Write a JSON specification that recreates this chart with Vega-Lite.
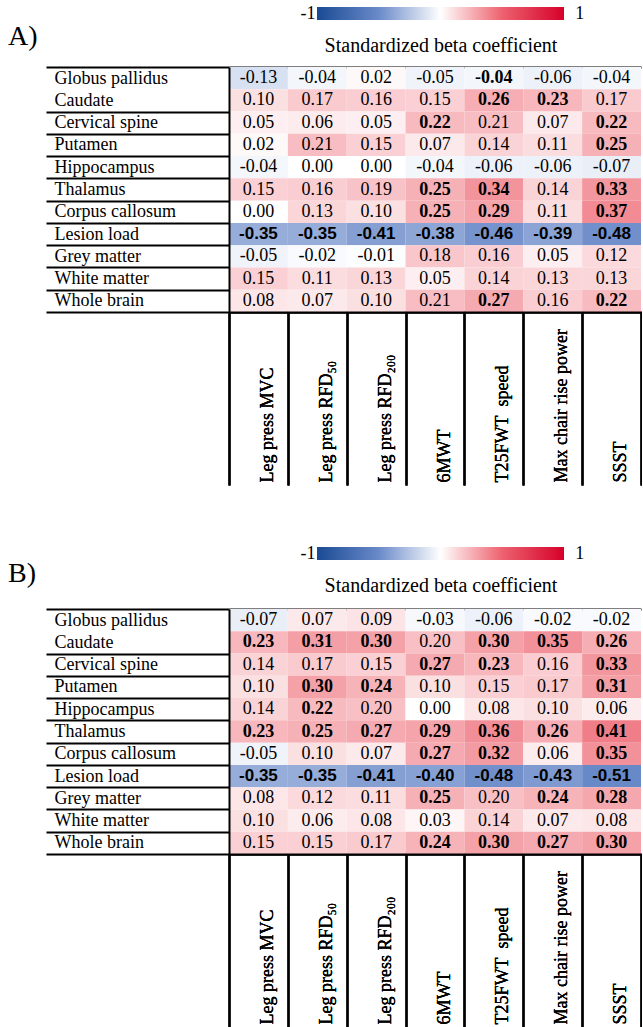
{
  "$schema": "https://vega.github.io/schema/vega-lite/v6.json",
  "padding": {"left": 8, "top": 7, "right": 0, "bottom": 0},
  "background": "white",
  "spacing": 61,
  "config": {
    "locale": {"number": {"decimal": ".", "thousands": ",", "grouping": [3], "currency": ["$", ""], "minus": "-"}},
    "view": {"stroke": null},
    "font": "Liberation Serif",
    "axis": {"grid": false, "title": null, "labelFont": "Liberation Serif", "labelFontSize": 18, "labelColor": "black", "labelLimit": 400, "labelOverlap": false, "labelFlush": false, "labelBound": false},
    "legend": {"padding": 0, "offset": 0, "labelFont": "Liberation Serif", "labelFontSize": 18, "labelColor": "black", "titleFont": "Liberation Serif", "titleFontSize": 20, "titleFontWeight": "normal", "titleColor": "black", "titleLimit": 400, "labelLimit": 400}
  },
  "resolve": {"scale": {"color": "independent"}, "legend": {"color": "independent"}},
  "data": {"values": [
    {"panel":"A","region":"Globus pallidus","measure":"Leg press MVC","beta":-0.13,"sig":false},
    {"panel":"A","region":"Globus pallidus","measure":"Leg press RFD₅₀","beta":-0.04,"sig":false},
    {"panel":"A","region":"Globus pallidus","measure":"Leg press RFD₂₀₀","beta":0.02,"sig":false},
    {"panel":"A","region":"Globus pallidus","measure":"6MWT","beta":-0.05,"sig":false},
    {"panel":"A","region":"Globus pallidus","measure":"T25FWT\u00a0 speed","beta":-0.04,"sig":true},
    {"panel":"A","region":"Globus pallidus","measure":"Max chair rise power","beta":-0.06,"sig":false},
    {"panel":"A","region":"Globus pallidus","measure":"SSST","beta":-0.04,"sig":false},
    {"panel":"A","region":"Caudate","measure":"Leg press MVC","beta":0.10,"sig":false},
    {"panel":"A","region":"Caudate","measure":"Leg press RFD₅₀","beta":0.17,"sig":false},
    {"panel":"A","region":"Caudate","measure":"Leg press RFD₂₀₀","beta":0.16,"sig":false},
    {"panel":"A","region":"Caudate","measure":"6MWT","beta":0.15,"sig":false},
    {"panel":"A","region":"Caudate","measure":"T25FWT\u00a0 speed","beta":0.26,"sig":true},
    {"panel":"A","region":"Caudate","measure":"Max chair rise power","beta":0.23,"sig":true},
    {"panel":"A","region":"Caudate","measure":"SSST","beta":0.17,"sig":false},
    {"panel":"A","region":"Cervical spine","measure":"Leg press MVC","beta":0.05,"sig":false},
    {"panel":"A","region":"Cervical spine","measure":"Leg press RFD₅₀","beta":0.06,"sig":false},
    {"panel":"A","region":"Cervical spine","measure":"Leg press RFD₂₀₀","beta":0.05,"sig":false},
    {"panel":"A","region":"Cervical spine","measure":"6MWT","beta":0.22,"sig":true},
    {"panel":"A","region":"Cervical spine","measure":"T25FWT\u00a0 speed","beta":0.21,"sig":false},
    {"panel":"A","region":"Cervical spine","measure":"Max chair rise power","beta":0.07,"sig":false},
    {"panel":"A","region":"Cervical spine","measure":"SSST","beta":0.22,"sig":true},
    {"panel":"A","region":"Putamen","measure":"Leg press MVC","beta":0.02,"sig":false},
    {"panel":"A","region":"Putamen","measure":"Leg press RFD₅₀","beta":0.21,"sig":false},
    {"panel":"A","region":"Putamen","measure":"Leg press RFD₂₀₀","beta":0.15,"sig":false},
    {"panel":"A","region":"Putamen","measure":"6MWT","beta":0.07,"sig":false},
    {"panel":"A","region":"Putamen","measure":"T25FWT\u00a0 speed","beta":0.14,"sig":false},
    {"panel":"A","region":"Putamen","measure":"Max chair rise power","beta":0.11,"sig":false},
    {"panel":"A","region":"Putamen","measure":"SSST","beta":0.25,"sig":true},
    {"panel":"A","region":"Hippocampus","measure":"Leg press MVC","beta":-0.04,"sig":false},
    {"panel":"A","region":"Hippocampus","measure":"Leg press RFD₅₀","beta":0.00,"sig":false},
    {"panel":"A","region":"Hippocampus","measure":"Leg press RFD₂₀₀","beta":0.00,"sig":false},
    {"panel":"A","region":"Hippocampus","measure":"6MWT","beta":-0.04,"sig":false},
    {"panel":"A","region":"Hippocampus","measure":"T25FWT\u00a0 speed","beta":-0.06,"sig":false},
    {"panel":"A","region":"Hippocampus","measure":"Max chair rise power","beta":-0.06,"sig":false},
    {"panel":"A","region":"Hippocampus","measure":"SSST","beta":-0.07,"sig":false},
    {"panel":"A","region":"Thalamus","measure":"Leg press MVC","beta":0.15,"sig":false},
    {"panel":"A","region":"Thalamus","measure":"Leg press RFD₅₀","beta":0.16,"sig":false},
    {"panel":"A","region":"Thalamus","measure":"Leg press RFD₂₀₀","beta":0.19,"sig":false},
    {"panel":"A","region":"Thalamus","measure":"6MWT","beta":0.25,"sig":true},
    {"panel":"A","region":"Thalamus","measure":"T25FWT\u00a0 speed","beta":0.34,"sig":true},
    {"panel":"A","region":"Thalamus","measure":"Max chair rise power","beta":0.14,"sig":false},
    {"panel":"A","region":"Thalamus","measure":"SSST","beta":0.33,"sig":true},
    {"panel":"A","region":"Corpus callosum","measure":"Leg press MVC","beta":0.00,"sig":false},
    {"panel":"A","region":"Corpus callosum","measure":"Leg press RFD₅₀","beta":0.13,"sig":false},
    {"panel":"A","region":"Corpus callosum","measure":"Leg press RFD₂₀₀","beta":0.10,"sig":false},
    {"panel":"A","region":"Corpus callosum","measure":"6MWT","beta":0.25,"sig":true},
    {"panel":"A","region":"Corpus callosum","measure":"T25FWT\u00a0 speed","beta":0.29,"sig":true},
    {"panel":"A","region":"Corpus callosum","measure":"Max chair rise power","beta":0.11,"sig":false},
    {"panel":"A","region":"Corpus callosum","measure":"SSST","beta":0.37,"sig":true},
    {"panel":"A","region":"Lesion load","measure":"Leg press MVC","beta":-0.35,"sig":true},
    {"panel":"A","region":"Lesion load","measure":"Leg press RFD₅₀","beta":-0.35,"sig":true},
    {"panel":"A","region":"Lesion load","measure":"Leg press RFD₂₀₀","beta":-0.41,"sig":true},
    {"panel":"A","region":"Lesion load","measure":"6MWT","beta":-0.38,"sig":true},
    {"panel":"A","region":"Lesion load","measure":"T25FWT\u00a0 speed","beta":-0.46,"sig":true},
    {"panel":"A","region":"Lesion load","measure":"Max chair rise power","beta":-0.39,"sig":true},
    {"panel":"A","region":"Lesion load","measure":"SSST","beta":-0.48,"sig":true},
    {"panel":"A","region":"Grey matter","measure":"Leg press MVC","beta":-0.05,"sig":false},
    {"panel":"A","region":"Grey matter","measure":"Leg press RFD₅₀","beta":-0.02,"sig":false},
    {"panel":"A","region":"Grey matter","measure":"Leg press RFD₂₀₀","beta":-0.01,"sig":false},
    {"panel":"A","region":"Grey matter","measure":"6MWT","beta":0.18,"sig":false},
    {"panel":"A","region":"Grey matter","measure":"T25FWT\u00a0 speed","beta":0.16,"sig":false},
    {"panel":"A","region":"Grey matter","measure":"Max chair rise power","beta":0.05,"sig":false},
    {"panel":"A","region":"Grey matter","measure":"SSST","beta":0.12,"sig":false},
    {"panel":"A","region":"White matter","measure":"Leg press MVC","beta":0.15,"sig":false},
    {"panel":"A","region":"White matter","measure":"Leg press RFD₅₀","beta":0.11,"sig":false},
    {"panel":"A","region":"White matter","measure":"Leg press RFD₂₀₀","beta":0.13,"sig":false},
    {"panel":"A","region":"White matter","measure":"6MWT","beta":0.05,"sig":false},
    {"panel":"A","region":"White matter","measure":"T25FWT\u00a0 speed","beta":0.14,"sig":false},
    {"panel":"A","region":"White matter","measure":"Max chair rise power","beta":0.13,"sig":false},
    {"panel":"A","region":"White matter","measure":"SSST","beta":0.13,"sig":false},
    {"panel":"A","region":"Whole brain","measure":"Leg press MVC","beta":0.08,"sig":false},
    {"panel":"A","region":"Whole brain","measure":"Leg press RFD₅₀","beta":0.07,"sig":false},
    {"panel":"A","region":"Whole brain","measure":"Leg press RFD₂₀₀","beta":0.10,"sig":false},
    {"panel":"A","region":"Whole brain","measure":"6MWT","beta":0.21,"sig":false},
    {"panel":"A","region":"Whole brain","measure":"T25FWT\u00a0 speed","beta":0.27,"sig":true},
    {"panel":"A","region":"Whole brain","measure":"Max chair rise power","beta":0.16,"sig":false},
    {"panel":"A","region":"Whole brain","measure":"SSST","beta":0.22,"sig":true},
    {"panel":"B","region":"Globus pallidus","measure":"Leg press MVC","beta":-0.07,"sig":false},
    {"panel":"B","region":"Globus pallidus","measure":"Leg press RFD₅₀","beta":0.07,"sig":false},
    {"panel":"B","region":"Globus pallidus","measure":"Leg press RFD₂₀₀","beta":0.09,"sig":false},
    {"panel":"B","region":"Globus pallidus","measure":"6MWT","beta":-0.03,"sig":false},
    {"panel":"B","region":"Globus pallidus","measure":"T25FWT\u00a0 speed","beta":-0.06,"sig":false},
    {"panel":"B","region":"Globus pallidus","measure":"Max chair rise power","beta":-0.02,"sig":false},
    {"panel":"B","region":"Globus pallidus","measure":"SSST","beta":-0.02,"sig":false},
    {"panel":"B","region":"Caudate","measure":"Leg press MVC","beta":0.23,"sig":true},
    {"panel":"B","region":"Caudate","measure":"Leg press RFD₅₀","beta":0.31,"sig":true},
    {"panel":"B","region":"Caudate","measure":"Leg press RFD₂₀₀","beta":0.30,"sig":true},
    {"panel":"B","region":"Caudate","measure":"6MWT","beta":0.20,"sig":false},
    {"panel":"B","region":"Caudate","measure":"T25FWT\u00a0 speed","beta":0.30,"sig":true},
    {"panel":"B","region":"Caudate","measure":"Max chair rise power","beta":0.35,"sig":true},
    {"panel":"B","region":"Caudate","measure":"SSST","beta":0.26,"sig":true},
    {"panel":"B","region":"Cervical spine","measure":"Leg press MVC","beta":0.14,"sig":false},
    {"panel":"B","region":"Cervical spine","measure":"Leg press RFD₅₀","beta":0.17,"sig":false},
    {"panel":"B","region":"Cervical spine","measure":"Leg press RFD₂₀₀","beta":0.15,"sig":false},
    {"panel":"B","region":"Cervical spine","measure":"6MWT","beta":0.27,"sig":true},
    {"panel":"B","region":"Cervical spine","measure":"T25FWT\u00a0 speed","beta":0.23,"sig":true},
    {"panel":"B","region":"Cervical spine","measure":"Max chair rise power","beta":0.16,"sig":false},
    {"panel":"B","region":"Cervical spine","measure":"SSST","beta":0.33,"sig":true},
    {"panel":"B","region":"Putamen","measure":"Leg press MVC","beta":0.10,"sig":false},
    {"panel":"B","region":"Putamen","measure":"Leg press RFD₅₀","beta":0.30,"sig":true},
    {"panel":"B","region":"Putamen","measure":"Leg press RFD₂₀₀","beta":0.24,"sig":true},
    {"panel":"B","region":"Putamen","measure":"6MWT","beta":0.10,"sig":false},
    {"panel":"B","region":"Putamen","measure":"T25FWT\u00a0 speed","beta":0.15,"sig":false},
    {"panel":"B","region":"Putamen","measure":"Max chair rise power","beta":0.17,"sig":false},
    {"panel":"B","region":"Putamen","measure":"SSST","beta":0.31,"sig":true},
    {"panel":"B","region":"Hippocampus","measure":"Leg press MVC","beta":0.14,"sig":false},
    {"panel":"B","region":"Hippocampus","measure":"Leg press RFD₅₀","beta":0.22,"sig":true},
    {"panel":"B","region":"Hippocampus","measure":"Leg press RFD₂₀₀","beta":0.20,"sig":false},
    {"panel":"B","region":"Hippocampus","measure":"6MWT","beta":0.00,"sig":false},
    {"panel":"B","region":"Hippocampus","measure":"T25FWT\u00a0 speed","beta":0.08,"sig":false},
    {"panel":"B","region":"Hippocampus","measure":"Max chair rise power","beta":0.10,"sig":false},
    {"panel":"B","region":"Hippocampus","measure":"SSST","beta":0.06,"sig":false},
    {"panel":"B","region":"Thalamus","measure":"Leg press MVC","beta":0.23,"sig":true},
    {"panel":"B","region":"Thalamus","measure":"Leg press RFD₅₀","beta":0.25,"sig":true},
    {"panel":"B","region":"Thalamus","measure":"Leg press RFD₂₀₀","beta":0.27,"sig":true},
    {"panel":"B","region":"Thalamus","measure":"6MWT","beta":0.29,"sig":true},
    {"panel":"B","region":"Thalamus","measure":"T25FWT\u00a0 speed","beta":0.36,"sig":true},
    {"panel":"B","region":"Thalamus","measure":"Max chair rise power","beta":0.26,"sig":true},
    {"panel":"B","region":"Thalamus","measure":"SSST","beta":0.41,"sig":true},
    {"panel":"B","region":"Corpus callosum","measure":"Leg press MVC","beta":-0.05,"sig":false},
    {"panel":"B","region":"Corpus callosum","measure":"Leg press RFD₅₀","beta":0.10,"sig":false},
    {"panel":"B","region":"Corpus callosum","measure":"Leg press RFD₂₀₀","beta":0.07,"sig":false},
    {"panel":"B","region":"Corpus callosum","measure":"6MWT","beta":0.27,"sig":true},
    {"panel":"B","region":"Corpus callosum","measure":"T25FWT\u00a0 speed","beta":0.32,"sig":true},
    {"panel":"B","region":"Corpus callosum","measure":"Max chair rise power","beta":0.06,"sig":false},
    {"panel":"B","region":"Corpus callosum","measure":"SSST","beta":0.35,"sig":true},
    {"panel":"B","region":"Lesion load","measure":"Leg press MVC","beta":-0.35,"sig":true},
    {"panel":"B","region":"Lesion load","measure":"Leg press RFD₅₀","beta":-0.35,"sig":true},
    {"panel":"B","region":"Lesion load","measure":"Leg press RFD₂₀₀","beta":-0.41,"sig":true},
    {"panel":"B","region":"Lesion load","measure":"6MWT","beta":-0.40,"sig":true},
    {"panel":"B","region":"Lesion load","measure":"T25FWT\u00a0 speed","beta":-0.48,"sig":true},
    {"panel":"B","region":"Lesion load","measure":"Max chair rise power","beta":-0.43,"sig":true},
    {"panel":"B","region":"Lesion load","measure":"SSST","beta":-0.51,"sig":true},
    {"panel":"B","region":"Grey matter","measure":"Leg press MVC","beta":0.08,"sig":false},
    {"panel":"B","region":"Grey matter","measure":"Leg press RFD₅₀","beta":0.12,"sig":false},
    {"panel":"B","region":"Grey matter","measure":"Leg press RFD₂₀₀","beta":0.11,"sig":false},
    {"panel":"B","region":"Grey matter","measure":"6MWT","beta":0.25,"sig":true},
    {"panel":"B","region":"Grey matter","measure":"T25FWT\u00a0 speed","beta":0.20,"sig":false},
    {"panel":"B","region":"Grey matter","measure":"Max chair rise power","beta":0.24,"sig":true},
    {"panel":"B","region":"Grey matter","measure":"SSST","beta":0.28,"sig":true},
    {"panel":"B","region":"White matter","measure":"Leg press MVC","beta":0.10,"sig":false},
    {"panel":"B","region":"White matter","measure":"Leg press RFD₅₀","beta":0.06,"sig":false},
    {"panel":"B","region":"White matter","measure":"Leg press RFD₂₀₀","beta":0.08,"sig":false},
    {"panel":"B","region":"White matter","measure":"6MWT","beta":0.03,"sig":false},
    {"panel":"B","region":"White matter","measure":"T25FWT\u00a0 speed","beta":0.14,"sig":false},
    {"panel":"B","region":"White matter","measure":"Max chair rise power","beta":0.07,"sig":false},
    {"panel":"B","region":"White matter","measure":"SSST","beta":0.08,"sig":false},
    {"panel":"B","region":"Whole brain","measure":"Leg press MVC","beta":0.15,"sig":false},
    {"panel":"B","region":"Whole brain","measure":"Leg press RFD₅₀","beta":0.15,"sig":false},
    {"panel":"B","region":"Whole brain","measure":"Leg press RFD₂₀₀","beta":0.17,"sig":false},
    {"panel":"B","region":"Whole brain","measure":"6MWT","beta":0.24,"sig":true},
    {"panel":"B","region":"Whole brain","measure":"T25FWT\u00a0 speed","beta":0.30,"sig":true},
    {"panel":"B","region":"Whole brain","measure":"Max chair rise power","beta":0.27,"sig":true},
    {"panel":"B","region":"Whole brain","measure":"SSST","beta":0.30,"sig":true}
  ]},
  "vconcat": [
    {
      "title": {"text": "A)", "anchor": "start", "frame": "bounds", "orient": "top", "offset": 0, "dx": -37, "dy": 58, "baseline": "middle", "fontSize": 28, "font": "Liberation Serif", "fontWeight": "normal", "color": "black"},
      "width": 412, "height": 245,
      "transform": [{"filter": "datum.panel === 'A'"}],
      "resolve": {"axis": {"x": "independent"}},
      "encoding": {
        "x": {"field": "measure", "type": "nominal", "sort": ["Leg press MVC","Leg press RFD₅₀","Leg press RFD₂₀₀","6MWT","T25FWT\u00a0 speed","Max chair rise power","SSST"], "scale": {"paddingInner": 0, "paddingOuter": 0},
          "axis": {"orient": "bottom", "domain": true, "domainColor": "black", "domainWidth": 2, "ticks": true, "tickBand": "extent", "tickSize": 173, "tickWidth": 2, "tickColor": "black", "labelAngle": -90, "labelAlign": "left", "labelBaseline": "middle", "labelPadding": -3, "labelOffset": 9}},
        "y": {"field": "region", "type": "nominal", "sort": ["Globus pallidus","Caudate","Cervical spine","Putamen","Hippocampus","Thalamus","Corpus callosum","Lesion load","Grey matter","White matter","Whole brain"], "scale": {"paddingInner": 0, "paddingOuter": 0},
          "axis": {"orient": "left", "domain": true, "domainColor": "black", "domainWidth": 2, "ticks": true, "tickBand": "extent", "tickSize": 183, "tickWidth": 2, "tickColor": {"condition": {"test": "datum.index === 0", "value": "transparent"}, "value": "black"}, "labelAlign": "left", "labelBaseline": "middle", "labelPadding": -8}}
      },
      "layer": [
        {"mark": {"type": "rect"},
         "encoding": {"color": {"field": "beta", "type": "quantitative",
           "scale": {"domain": [-1, -0.5, 0, 0.5, 1], "range": ["#1a4a94", "#6a8ac9", "#ffffff", "#ed626e", "#d6002a"], "interpolate": "rgb"},
           "legend": {"orient": "none", "legendX": 88, "legendY": -60, "direction": "horizontal", "gradientLength": 247, "gradientThickness": 13, "gradientStrokeWidth": 0, "values": [-0.9999, 0.9999],
             "labelExpr": "datum.value < 0 ? '-1\u00a0\u00a0\u00a0\u00a0\u200b' : '\u200b\u00a0\u00a0\u00a0\u00a0\u00a0\u00a0\u00a01'", "labelOffset": -15,
             "title": "Standardized beta coefficient", "titleOrient": "bottom", "titleAnchor": "middle", "titlePadding": 13}}}},
        {"transform": [{"filter": "!datum.sig && datum.region !== 'Lesion load'"}],
         "mark": {"type": "text", "font": "Liberation Serif", "fontSize": 18, "color": "black"},
         "encoding": {
           "x": {"field": "measure", "type": "nominal", "sort": ["Leg press MVC","Leg press RFD₅₀","Leg press RFD₂₀₀","6MWT","T25FWT\u00a0 speed","Max chair rise power","SSST"],
             "axis": {"orient": "top", "domain": true, "domainColor": "black", "domainWidth": 2, "ticks": false, "labels": false}},
           "text": {"field": "beta", "type": "quantitative", "format": ".2f"}}},
        {"transform": [{"filter": "datum.sig && datum.region !== 'Lesion load'"}],
         "mark": {"type": "text", "font": "Liberation Serif", "fontSize": 18, "fontWeight": "bold", "color": "black"},
         "encoding": {"text": {"field": "beta", "type": "quantitative", "format": ".2f"}}},
        {"transform": [{"filter": "datum.region === 'Lesion load'"}],
         "mark": {"type": "text", "font": "Liberation Sans", "fontSize": 17, "fontWeight": "bold", "color": "black"},
         "encoding": {"text": {"field": "beta", "type": "quantitative", "format": ".2f"}}}
      ]
    },
    {
      "title": {"text": "B)", "anchor": "start", "frame": "bounds", "orient": "top", "offset": 0, "dx": -37, "dy": 55, "baseline": "middle", "fontSize": 28, "font": "Liberation Serif", "fontWeight": "normal", "color": "black"},
      "width": 412, "height": 245,
      "transform": [{"filter": "datum.panel === 'B'"}],
      "resolve": {"axis": {"x": "independent"}},
      "encoding": {
        "x": {"field": "measure", "type": "nominal", "sort": ["Leg press MVC","Leg press RFD₅₀","Leg press RFD₂₀₀","6MWT","T25FWT\u00a0 speed","Max chair rise power","SSST"], "scale": {"paddingInner": 0, "paddingOuter": 0},
          "axis": {"orient": "bottom", "domain": true, "domainColor": "black", "domainWidth": 2, "ticks": true, "tickBand": "extent", "tickSize": 173, "tickWidth": 2, "tickColor": "black", "labelAngle": -90, "labelAlign": "left", "labelBaseline": "middle", "labelPadding": -3, "labelOffset": 9}},
        "y": {"field": "region", "type": "nominal", "sort": ["Globus pallidus","Caudate","Cervical spine","Putamen","Hippocampus","Thalamus","Corpus callosum","Lesion load","Grey matter","White matter","Whole brain"], "scale": {"paddingInner": 0, "paddingOuter": 0},
          "axis": {"orient": "left", "domain": true, "domainColor": "black", "domainWidth": 2, "ticks": true, "tickBand": "extent", "tickSize": 183, "tickWidth": 2, "tickColor": {"condition": {"test": "datum.index === 0", "value": "transparent"}, "value": "black"}, "labelAlign": "left", "labelBaseline": "middle", "labelPadding": -8}}
      },
      "layer": [
        {"mark": {"type": "rect"},
         "encoding": {"color": {"field": "beta", "type": "quantitative",
           "scale": {"domain": [-1, -0.5, 0, 0.5, 1], "range": ["#1a4a94", "#6a8ac9", "#ffffff", "#ed626e", "#d6002a"], "interpolate": "rgb"},
           "legend": {"orient": "none", "legendX": 88, "legendY": -62, "direction": "horizontal", "gradientLength": 247, "gradientThickness": 13, "gradientStrokeWidth": 0, "values": [-0.9999, 0.9999],
             "labelExpr": "datum.value < 0 ? '-1\u00a0\u00a0\u00a0\u00a0\u200b' : '\u200b\u00a0\u00a0\u00a0\u00a0\u00a0\u00a0\u00a01'", "labelOffset": -15,
             "title": "Standardized beta coefficient", "titleOrient": "bottom", "titleAnchor": "middle", "titlePadding": 13}}}},
        {"transform": [{"filter": "!datum.sig && datum.region !== 'Lesion load'"}],
         "mark": {"type": "text", "font": "Liberation Serif", "fontSize": 18, "color": "black"},
         "encoding": {
           "x": {"field": "measure", "type": "nominal", "sort": ["Leg press MVC","Leg press RFD₅₀","Leg press RFD₂₀₀","6MWT","T25FWT\u00a0 speed","Max chair rise power","SSST"],
             "axis": {"orient": "top", "domain": true, "domainColor": "black", "domainWidth": 2, "ticks": false, "labels": false}},
           "text": {"field": "beta", "type": "quantitative", "format": ".2f"}}},
        {"transform": [{"filter": "datum.sig && datum.region !== 'Lesion load'"}],
         "mark": {"type": "text", "font": "Liberation Serif", "fontSize": 18, "fontWeight": "bold", "color": "black"},
         "encoding": {"text": {"field": "beta", "type": "quantitative", "format": ".2f"}}},
        {"transform": [{"filter": "datum.region === 'Lesion load'"}],
         "mark": {"type": "text", "font": "Liberation Sans", "fontSize": 17, "fontWeight": "bold", "color": "black"},
         "encoding": {"text": {"field": "beta", "type": "quantitative", "format": ".2f"}}}
      ]
    }
  ]
}
